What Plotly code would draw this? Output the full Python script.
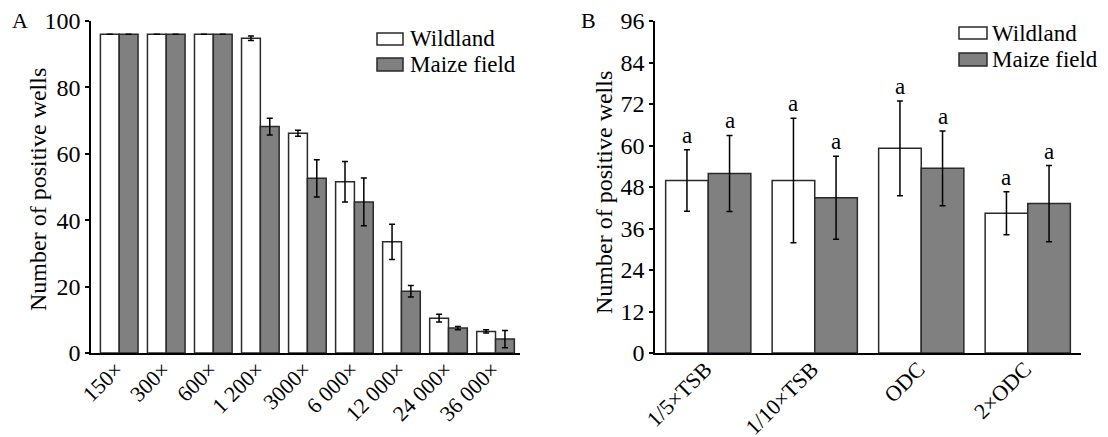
import plotly.graph_objects as go

# ---- Data ----
dilutions = ["150×", "300×", "600×", "1 200×", "3000×", "6 000×", "12 000×", "24 000×", "36 000×"]
wild_a = [96, 96, 96, 94.8, 66.2, 51.6, 33.5, 10.5, 6.5]
wild_a_err = [0, 0, 0, 0.7, 0.9, 6.1, 5.3, 1.2, 0.5]
maize_a = [96, 96, 96, 68.2, 52.6, 45.5, 18.6, 7.5, 4.2]
maize_a_err = [0, 0, 0, 2.5, 5.6, 7.2, 1.7, 0.5, 2.6]

media = ["1/5×TSB", "1/10×TSB", "ODC", "2×ODC"]
wild_b = [49.9, 49.9, 59.2, 40.4]
wild_b_err = [8.9, 18.0, 13.7, 6.2]
maize_b = [51.9, 44.9, 53.4, 43.2]
maize_b_err = [11.0, 12.0, 10.8, 11.0]
letters_wild_b = ["a", "a", "a", "a"]
letters_maize_b = ["a", "a", "a", "a"]

FONT = "Liberation Serif"
FS_TICK = 24
FS_XTICK = 22
FS_LEG = 23
FS_TITLE = 24
FS_PANEL = 22
FS_LET = 23
WILD_COLOR = "white"
MAIZE_COLOR = "#808080"
EDGE = "#2a2a2a"

# page has an 8px body margin; figure sized to fit the 1108x437 window
OFF = 8
W, H = 1108 - OFF, 437 - OFF

def fx(px):
    return (px - OFF) / W

def fy(py):
    return 1 - (py - OFF) / H

fig = go.Figure()

def add_pair(cats, w, we, m, me, xa, ya):
    for name, vals, errs, color in [("Wildland", w, we, WILD_COLOR), ("Maize field", m, me, MAIZE_COLOR)]:
        fig.add_trace(go.Bar(
            x=cats, y=vals, name=name, xaxis=xa, yaxis=ya, showlegend=False,
            marker=dict(color=color, line=dict(color=EDGE, width=1.5)),
            error_y=dict(type="data", array=errs, visible=True, color="black", thickness=1.5, width=3),
        ))

add_pair(dilutions, wild_a, wild_a_err, maize_a, maize_a_err, "x", "y")
add_pair(media, wild_b, wild_b_err, maize_b, maize_b_err, "x2", "y2")

annotations = []
for i in range(len(media)):
    annotations.append(dict(x=i - 0.2, y=wild_b[i] + wild_b_err[i], xref="x2", yref="y2",
                            text=letters_wild_b[i], showarrow=False, yanchor="bottom", yshift=0,
                            font=dict(family=FONT, size=FS_LET, color="black")))
    annotations.append(dict(x=i + 0.2, y=maize_b[i] + maize_b_err[i], xref="x2", yref="y2",
                            text=letters_maize_b[i], showarrow=False, yanchor="bottom", yshift=0,
                            font=dict(family=FONT, size=FS_LET, color="black")))

def px_text(x, y, text, size, angle=0):
    annotations.append(dict(x=fx(x), y=fy(y), xref="paper", yref="paper", text=text,
                            textangle=angle, showarrow=False, xanchor="center", yanchor="middle",
                            font=dict(family=FONT, size=size, color="black")))

px_text(20, 21, "A", FS_PANEL)
px_text(588, 21, "B", FS_PANEL)
px_text(38, 190, "Number of positive wells", FS_TITLE, -90)
px_text(604, 193, "Number of positive wells", FS_TITLE, -90)

shapes = []
def legend(x0, x1, y_rows, tx):
    for (ya, yb), fill, label in zip(y_rows, [WILD_COLOR, MAIZE_COLOR], ["Wildland", "Maize field"]):
        shapes.append(dict(type="rect", xref="paper", yref="paper",
                           x0=fx(x0), x1=fx(x1), y0=fy(yb), y1=fy(ya),
                           fillcolor=fill, line=dict(color=EDGE, width=1.5)))
        annotations.append(dict(x=fx(tx), y=fy((ya + yb) / 2), xref="paper", yref="paper",
                                text=label, showarrow=False, xanchor="left", yanchor="middle",
                                font=dict(family=FONT, size=FS_LEG, color="black")))

legend(377, 403, [(33, 45), (58, 71)], 408)
legend(959, 987, [(27, 39), (53, 66)], 990)

ydom = [fy(353), fy(21)]
axis_common = dict(showline=True, linecolor="black", linewidth=1.5, showgrid=False, zeroline=False,
                   automargin=False)
xtick = dict(ticks="", tickangle=-45, ticklabelstandoff=-7, ticklabelshift=-3,
             tickfont=dict(family=FONT, size=FS_XTICK, color="black"))
ytick = dict(ticks="outside", ticklen=4, tickwidth=1.5, tickcolor="black",
             tickfont=dict(family=FONT, size=FS_TICK, color="black"))

fig.update_layout(
    width=W, height=H, margin=dict(l=0, r=0, t=0, b=0, pad=0), autosize=False,
    paper_bgcolor="white", plot_bgcolor="white",
    barmode="group", bargap=0.2, bargroupgap=0, showlegend=False,
    font=dict(family=FONT, size=FS_TICK, color="black"),
    xaxis=dict(domain=[fx(91), fx(520)], anchor="y", range=[-0.6, 8.52], **xtick, **axis_common),
    yaxis=dict(domain=ydom, anchor="x", range=[0, 100], tickvals=[0, 20, 40, 60, 80, 100],
               **ytick, **axis_common),
    xaxis2=dict(domain=[fx(655), fx(1081)], anchor="y2", range=[-0.5, 3.5], **xtick, **axis_common),
    yaxis2=dict(domain=ydom, anchor="x2", range=[0, 96], tickvals=[0, 12, 24, 36, 48, 60, 72, 84, 96],
                **ytick, **axis_common),
    annotations=annotations, shapes=shapes,
)

fig.write_html("out.html")
